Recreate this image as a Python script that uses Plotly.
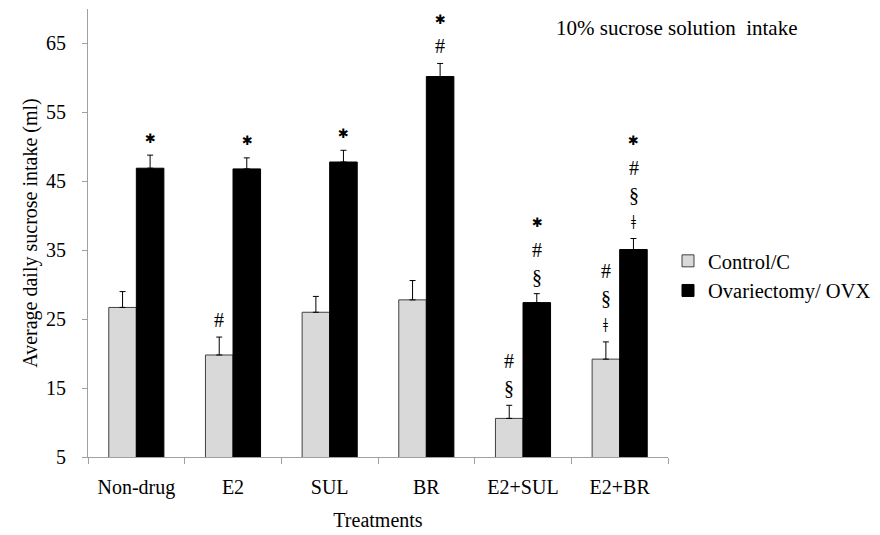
import plotly.graph_objects as go

categories = ["Non-drug", "E2", "SUL", "BR", "E2+SUL", "E2+BR"]
control = [26.7, 19.8, 26.0, 27.8, 10.6, 19.2]
control_err = [2.3, 2.6, 2.3, 2.8, 1.9, 2.5]
ovx = [46.9, 46.8, 47.8, 60.2, 27.4, 35.1]
ovx_err = [1.9, 1.6, 1.7, 1.9, 1.3, 1.6]
control_marks = [[], ["#"], [], [], ["§", "#"], ["ǂ", "§", "#"]]
ovx_marks = [["✱"], ["✱"], ["✱"], ["#", "✱"], ["§", "#", "✱"], ["ǂ", "§", "#", "✱"]]
y_ticks = [5, 15, 25, 35, 45, 55, 65]

FONT = "Times New Roman, Liberation Serif, DejaVu Serif, serif"

fig = go.Figure()
fig.add_trace(go.Bar(
    name="Control/C", x=categories, y=control,
    marker=dict(color="#d9d9d9", line=dict(color="#404040", width=1)),
    error_y=dict(type="data", array=control_err, arrayminus=[0]*6, symmetric=False,
                 color="#000000", thickness=1, width=3),
))
fig.add_trace(go.Bar(
    name="Ovariectomy/ OVX", x=categories, y=ovx,
    marker=dict(color="#000000", line=dict(color="#000000", width=1)),
    error_y=dict(type="data", array=ovx_err, arrayminus=[0]*6, symmetric=False,
                 color="#000000", thickness=1, width=3),
))

off = 0.145
for i in range(len(categories)):
    for vals, errs, marks, dx in ((control, control_err, control_marks, -off),
                                  (ovx, ovx_err, ovx_marks, off)):
        for j, m in enumerate(marks[i]):
            star = (m == "✱")
            fig.add_annotation(
                x=i + dx, y=vals[i] + errs[i], xref="x", yref="y",
                text=m, showarrow=False, yanchor="middle",
                yshift=17 + 27 * j,
                font=dict(family="DejaVu Sans" if star else FONT,
                          size=13 if star else 20, color="#000000"),
            )

fig.add_annotation(
    x=(676 - 88) / 580, y=(457 - 28) / 448, xref="paper", yref="paper",
    xanchor="center", yanchor="middle",
    text="10% sucrose solution  intake",
    showarrow=False, font=dict(family=FONT, size=21, color="#000000"),
)

# page body has an 8px offset, so the figure is sized/margined to compensate
fig.update_layout(
    width=872, height=527,
    margin=dict(l=80, r=212, t=1, b=78, autoexpand=False),
    paper_bgcolor="white", plot_bgcolor="white",
    barmode="group", bargap=0.43, bargroupgap=0,
    font=dict(family=FONT, size=20, color="#000000"),
    showlegend=True,
    legend=dict(x=1.0, y=0.404, yanchor="middle", xanchor="left",
                font=dict(family=FONT, size=20.5, color="#000000"),
                itemwidth=30, tracegroupgap=0),
    xaxis=dict(
        type="category", tickson="boundaries", ticks="outside", ticklen=6,
        tickcolor="#a0a0a0", showline=True, linecolor="#a0a0a0", linewidth=1,
        showgrid=False, zeroline=False, automargin=False, ticklabelstandoff=12,
        tickfont=dict(family=FONT, size=20, color="#000000"),
        title=dict(text="Treatments", font=dict(family=FONT, size=20, color="#000000"), standoff=14),
    ),
    yaxis=dict(
        range=[5, 70], tickvals=y_ticks, ticks="outside", ticklen=5,
        tickcolor="#a0a0a0", showline=True, linecolor="#a0a0a0", linewidth=1,
        showgrid=False, zeroline=False, automargin=False, ticklabelstandoff=12,
        tickfont=dict(family=FONT, size=20, color="#000000"),
        title=dict(text="Average daily sucrose intake (ml)",
                   font=dict(family=FONT, size=20, color="#000000"), standoff=3),
    ),
)

fig.write_html("out.html")
